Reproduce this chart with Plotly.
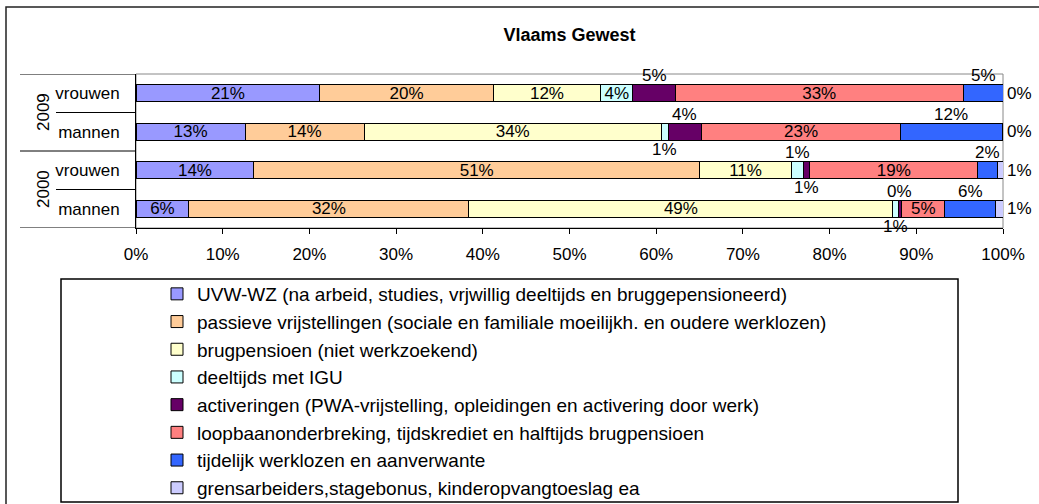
import plotly.graph_objects as go

# ---- data ----
years = ["2000", "2000", "2009", "2009"]
genders = ["mannen", "vrouwen", "mannen", "vrouwen"]
row_pos = [0, 1, 2, 3]
x_ticks = list(range(0, 101, 10))

series_names = [
    "UVW-WZ (na arbeid, studies, vrjwillig deeltijds en bruggepensioneerd)",
    "passieve vrijstellingen (sociale en familiale moeilijkh. en oudere werklozen)",
    "brugpensioen (niet werkzoekend)",
    "deeltijds met IGU",
    "activeringen (PWA-vrijstelling, opleidingen en activering door werk)",
    "loopbaanonderbreking, tijdskrediet en halftijds brugpensioen",
    "tijdelijk werklozen en aanverwante",
    "grensarbeiders,stagebonus, kinderopvangtoeslag ea",
]
# rows: 2000 mannen, 2000 vrouwen, 2009 mannen, 2009 vrouwen
uvw_wz = [6.1, 13.6, 12.6, 21.2]
passieve = [32.3, 51.4, 13.7, 20.0]
brugpensioen = [48.9, 10.6, 34.3, 12.4]
deeltijds = [0.6, 1.4, 0.8, 3.7]
activeringen = [0.4, 0.7, 3.8, 4.9]
loopbaan = [5.0, 19.4, 23.0, 33.2]
tijdelijk = [5.8, 2.3, 11.7, 4.6]
grens = [0.9, 0.6, 0.1, 0.0]
values = [uvw_wz, passieve, brugpensioen, deeltijds, activeringen, loopbaan, tijdelijk, grens]

colors = ["#9999FF", "#FFCC99", "#FFFFCC", "#CCFFFF", "#660066", "#FF8080", "#3366FF", "#CCCCFF"]
# label placement per series per row
placement = [
    ["in", "in", "in", "in"],
    ["in", "in", "in", "in"],
    ["in", "in", "in", "in"],
    ["below", "above", "below", "in"],
    ["above", "below", "above", "above"],
    ["in", "in", "in", "in"],
    ["above", "above", "above", "above"],
    ["right", "right", "right", "right"],
]

FONT = "Arial, 'Liberation Sans', sans-serif"
LBL = 17

# pixel geometry helpers
W_IMG, H_IMG = 1039, 504
L, R, T, B = 136, 1003, 74, 228
PW, PH = R - L, B - T


def px(x):
    return (x - L) / PW


def py(y):
    return (B - y) / PH


fig = go.Figure()
annotations = []
for si, (name, vals, col) in enumerate(zip(series_names, values, colors)):
    texts = [f"{round(v)}%" if placement[si][ri] == "in" else "" for ri, v in enumerate(vals)]
    tpos = ["inside" if placement[si][ri] == "in" else "none" for ri in range(len(vals))]
    fig.add_trace(go.Bar(
        name=name, y=row_pos, x=vals, orientation="h",
        marker=dict(color=col, line=dict(color="black", width=1)),
        text=texts, textposition=tpos, insidetextanchor="middle",
        textfont=dict(family=FONT, size=LBL, color="black"),
        width=0.45, legendgroup=f"g{si}",
    ))
    # outside labels
    for ri, v in enumerate(vals):
        p = placement[si][ri]
        if p == "in":
            continue
        start = sum(values[k][ri] for k in range(si))
        center = start + v / 2
        lab = f"{round(v)}%"
        fnt = dict(family=FONT, size=LBL, color="black")
        if p == "above":
            annotations.append(dict(x=center, y=row_pos[ri] + 0.45, text=lab, showarrow=False,
                                    xref="x", yref="y", font=fnt))
        elif p == "below":
            annotations.append(dict(x=center, y=row_pos[ri] - 0.45, text=lab, showarrow=False,
                                    xref="x", yref="y", font=fnt))
        else:
            annotations.append(dict(x=start + v, y=row_pos[ri], text=lab, showarrow=False,
                                    xref="x", yref="y", xanchor="left", xshift=2, font=fnt))

# year labels
for yr in sorted(set(years)):
    idx = [i for i, y in enumerate(years) if y == yr]
    annotations.append(dict(x=px(32), y=sum(row_pos[i] for i in idx) / len(idx), text=yr, textangle=-90,
                            showarrow=False, xref="paper", yref="y",
                            font=dict(family=FONT, size=17, color="black")))

shapes = []
# outer frame
shapes.append(dict(type="rect", xref="paper", yref="paper", x0=px(6), x1=px(1045), y0=py(510), y1=py(7),
                   line=dict(color="#222222", width=1.5), layer="below"))
# plot area border (grey)
shapes.append(dict(type="rect", xref="paper", yref="paper", x0=0, x1=1, y0=0, y1=1,
                   line=dict(color="#888888", width=1), layer="below"))
# category table lines
for yb, xs in [(-0.5, 20), (0.5, 56), (1.5, 20), (2.5, 56), (3.5, 20)]:
    shapes.append(dict(type="line", xref="paper", yref="y", x0=px(xs), x1=0, y0=yb, y1=yb,
                       line=dict(color="black", width=1)))
# legend box
shapes.append(dict(type="rect", xref="paper", yref="paper", x0=px(61), x1=px(958), y0=py(502), y1=py(279),
                   line=dict(color="black", width=1.5), layer="below"))

fig.update_layout(
    width=W_IMG, height=H_IMG,
    margin=dict(l=L, r=W_IMG - R, t=T, b=H_IMG - B, pad=0, autoexpand=False),
    barmode="stack",
    uniformtext=dict(mode="show", minsize=LBL),
    paper_bgcolor="white", plot_bgcolor="white",
    title=dict(text="<b>Vlaams Gewest</b>", x=px(569.5), xref="paper", xanchor="center",
               y=1 - 35 / H_IMG, yanchor="middle", font=dict(family=FONT, size=18, color="black")),
    xaxis=dict(range=[0, 100], tickvals=x_ticks, ticktext=[f"{v}%" for v in x_ticks],
               showgrid=False, zeroline=False, showline=True, linecolor="black", linewidth=1,
               ticks="outside", ticklen=5, tickcolor="black", ticklabelstandoff=6,
               tickfont=dict(family=FONT, size=17, color="black")),
    yaxis=dict(range=[-0.5, 3.5], tickvals=row_pos, ticktext=genders, showgrid=False, zeroline=False,
               showline=True, linecolor="black", linewidth=1, ticks="", ticklabelstandoff=12,
               tickfont=dict(family=FONT, size=17, color="black")),
    showlegend=True,
    legend=dict(x=px(157), xanchor="left", y=py(275), yanchor="top", traceorder="grouped",
                tracegroupgap=0, bgcolor="rgba(0,0,0,0)", borderwidth=0,
                font=dict(family=FONT, size=19, color="black")),
    annotations=annotations,
    shapes=shapes,
)

fig.write_html("out.html", config={"displayModeBar": False},
               post_script="document.body.style.margin='0';")
